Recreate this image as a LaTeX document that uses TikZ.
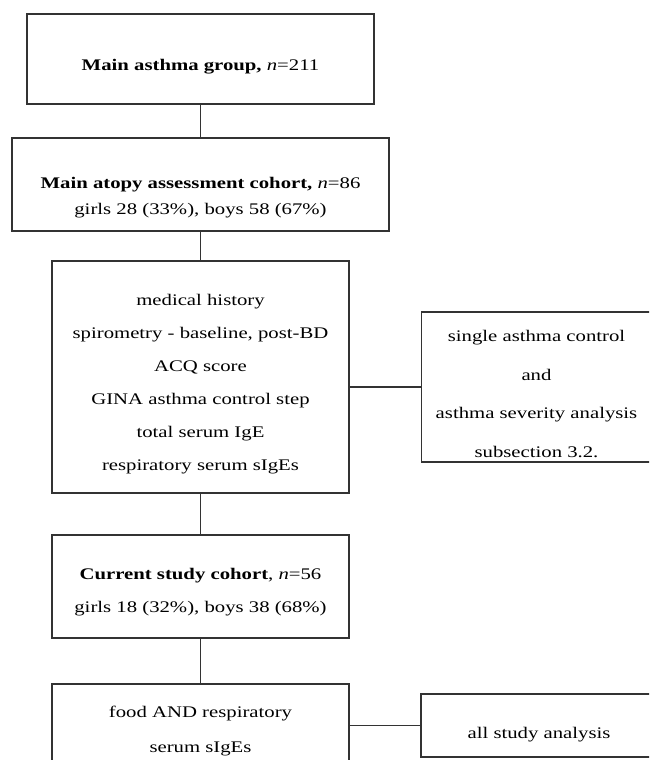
\documentclass[tikz,border=0pt]{standalone}
\usepackage{fontspec}
\setmainfont{Liberation Serif}[FakeStretch=1.28]
\usetikzlibrary{calc}
\newcommand\dn[1]{\rule{0pt}{#1}}
\tikzset{
  box/.style={draw=black!80, line width=1.2pt, align=center, inner sep=0pt, font=\fontsize{16.2}{26.5}\selectfont},
  link/.style={draw=black!80, line width=1.2pt}
}
\begin{document}
\begin{tikzpicture}[x=1pt,y=-1pt]
\useasboundingbox (0,0) rectangle (649,760);
\begin{scope}
\clip (0,0) rectangle (649,760);
\node[box, minimum width=347pt, minimum height=90pt] (b1) at (200.5,59) {\dn{27pt}\textbf{Main asthma group,} \textit{n}=211};
\node[box, minimum width=377pt, minimum height=93pt] (b2) at (200.5,184.5) {\dn{37pt}\textbf{Main atopy assessment cohort,} \textit{n}=86\\girls 28 (33\%), boys 58 (67\%)};
\node[box, minimum width=297pt, minimum height=232pt, font=\fontsize{16.2}{33}\selectfont] (b3) at (200.5,377) {\dn{25pt}medical history\\spirometry - baseline, post-BD\\ACQ score\\GINA asthma control step\\total serum IgE\\respiratory serum sIgEs};
\node[box, minimum width=230pt, minimum height=150pt, font=\fontsize{16.2}{38.7}\selectfont] (b4) at (536.5,387) {\dn{25pt}single asthma control\\and\\asthma severity analysis\\subsection 3.2.};
\node[box, minimum width=297pt, minimum height=103pt, font=\fontsize{16.2}{33}\selectfont] (b5) at (200.5,586.5) {\dn{23pt}\textbf{Current study cohort}, \textit{n}=56\\girls 18 (32\%), boys 38 (68\%)};
\node[box, minimum width=297pt, minimum height=86pt, font=\fontsize{16.2}{34.6}\selectfont] (b6) at (200.5,727) {\dn{19pt}food AND respiratory\\serum sIgEs};
\node[box, minimum width=236pt, minimum height=63pt] (b7) at (539,725.5) {\dn{29pt}all study analysis};
\draw[link] (b1.south) -- (b2.north);
\draw[link] (b2.south) -- (b3.north);
\draw[link] (b3.south) -- (b5.north);
\draw[link] (b5.south) -- (b6.north);
\draw[link] (b4.west) -- (b4.west -| b3.east);
\draw[link] (b7.west) -- (b7.west -| b6.east);
\end{scope}
\end{tikzpicture}
\end{document}
